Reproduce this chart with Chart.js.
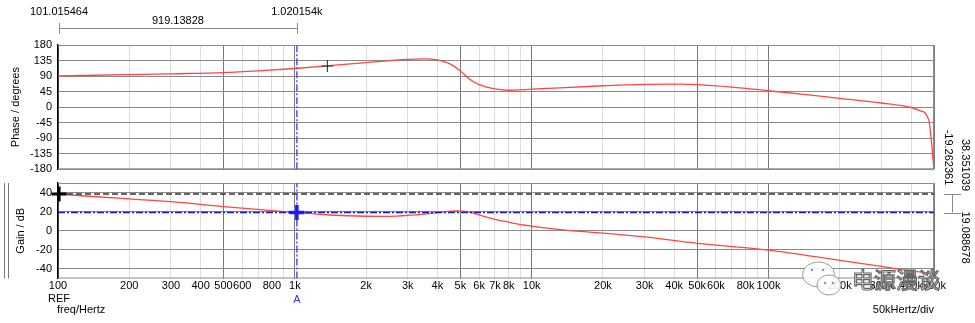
<!DOCTYPE html>
<html>
<head>
<meta charset="utf-8">
<script src="https://cdn.jsdelivr.net/npm/chart.js@4.4.1/dist/chart.umd.min.js"></script>
<style>
html, body { margin: 0; padding: 0; background: #fff; }
#wrap { position: relative; width: 975px; height: 323px; overflow: hidden; }
canvas { position: absolute; left: 0; top: 0; }
</style>
</head>
<body>
<div id="wrap">
  <canvas id="phaseChart" width="975" height="323"></canvas>
  <canvas id="gainChart" width="975" height="323"></canvas>
</div>
<script>
// measured curves
const phaseFreq = [100, 200, 300, 500, 700, 1000, 1400, 2000, 3000, 3500, 4000, 4500, 5000, 5500, 6000, 7000, 8000, 10000, 20000, 30000, 42000, 50000, 70000, 100000, 155000, 200000, 300000, 400000, 436000, 475000, 500000];
const phaseDeg = [90.5, 94, 96.5, 100, 105, 112, 120, 129, 138.5, 140, 137, 126, 105, 80, 65, 53, 49, 52, 62, 66, 66.5, 65, 58, 47.5, 34, 25.5, 12, -1, -10, -37, -180];

const gainFreq = [100, 200, 300, 500, 1000, 1400, 2000, 2500, 3000, 4000, 4800, 5300, 6000, 7000, 8000, 9000, 10000, 13600, 20000, 30000, 50000, 100000, 200000, 300000, 400000, 500000];
const gainDb = [38.35, 33.3, 30.4, 25.2, 19.2, 16.5, 15.2, 15.1, 16, 18.9, 20.8, 20.2, 16.5, 12, 9, 6.5, 4.9, 1, -2.5, -6.5, -13.2, -20.2, -31, -37.4, -42, -45];

// cursors
const cursorRef = 101.015464;
const cursorA = 1020.154;
const refGain = 38.351039;
const aGain = 19.088678;
const hoverMark = { x: 1372, y: 119 };
const cursorText = { ref: '101.015464', a: '1.020154k', delta: '919.13828' };
const gainText = { ref: '38.351039', delta: '-19.262361', a: '19.088678' };

// axes
const phaseTicks = [-180, -135, -90, -45, 0, 45, 90, 135, 180];
const gainTicks = [-40, -20, 0, 20, 40];
const labelFreqs = [100, 200, 300, 400, 500, 600, 800, 1000, 2000, 3000, 4000, 5000, 6000, 7000, 8000, 10000, 20000, 30000, 40000, 50000, 60000, 80000, 100000, 200000, 300000, 400000, 500000];
const labelText = ['100', '200', '300', '400', '500', '600', '800', '1k', '2k', '3k', '4k', '5k', '6k', '7k', '8k', '10k', '20k', '30k', '40k', '50k', '60k', '80k', '100k', '200k', '300k', '400k', '500k'];

const fMin = 100, fMax = 500000;

// minor grid: 1..9 per decade
const gridFreqs = [];
[100, 1000, 10000, 100000].forEach(d => {
    for (let m = 1; m <= 9; m++) {
        if (m * d <= fMax) gridFreqs.push(m * d);
    }
});
const labelMap = {};
labelFreqs.forEach((f, i) => { labelMap[f] = labelText[i]; });

function isMajor(v) {
    if (!v) return false;
    const m = v / Math.pow(10, Math.floor(Math.log10(v) + 1e-9));
    return Math.abs(m - 1) < 1e-6 || Math.abs(m - 5) < 1e-6;
}

const FONT = '"Liberation Sans", Arial, sans-serif';
Chart.defaults.font.family = FONT;
Chart.defaults.font.size = 11;
Chart.defaults.color = '#000';

const toXY = (xs, ys) => xs.map((x, i) => ({ x: x, y: ys[i] }));

function xAxis(showLabels) {
    return {
        type: 'logarithmic',
        min: fMin,
        max: fMax,
        afterBuildTicks: s => { s.ticks = gridFreqs.map(v => ({ value: v })); },
        afterFit: s => { s.height = showLabels ? 20 : 0; },
        grid: {
            color: c => isMajor(c.tick && c.tick.value) ? '#7a7a7a' : '#dcdcdc',
            drawTicks: false
        },
        border: { display: false },
        ticks: {
            display: showLabels,
            autoSkip: false,
            maxRotation: 0,
            padding: 1,
            color: '#000',
            callback: v => labelMap[v] || ''
        }
    };
}

function yAxis(min, max, list, title, titlePad) {
    return {
        min: min,
        max: max,
        afterBuildTicks: s => { s.ticks = list.map(v => ({ value: v })); },
        afterFit: s => { s.width = 58; },
        grid: { color: '#8a8a8a', drawTicks: false },
        border: { color: '#000', width: 1.5 },
        ticks: { padding: 6, color: '#000', autoSkip: false },
        title: { display: true, text: title, color: '#000', padding: { top: titlePad, bottom: 0 } }
    };
}

// grey frame on top/right/bottom of each plot
const framePlugin = {
    id: 'frame',
    beforeDatasetsDraw(chart) {
        const a = chart.chartArea, ctx = chart.ctx;
        ctx.save();
        ctx.strokeStyle = '#8a8a8a';
        ctx.lineWidth = 1;
        ctx.beginPath();
        ctx.moveTo(a.left, a.top + 0.5);
        ctx.lineTo(a.right - 0.5, a.top + 0.5);
        ctx.lineTo(a.right - 0.5, a.bottom - 0.5);
        ctx.lineTo(a.left, a.bottom - 0.5);
        ctx.stroke();
        ctx.restore();
    }
};

const topNotes = {
    id: 'topNotes',
    afterDraw(chart) {
        const ctx = chart.ctx, xs = chart.scales.x;
        const x1 = xs.getPixelForValue(cursorRef), x2 = xs.getPixelForValue(cursorA);
        ctx.save();
        ctx.strokeStyle = '#8a8a8a';
        ctx.lineWidth = 1;
        ctx.beginPath();
        ctx.moveTo(x1, 28.5); ctx.lineTo(x2, 28.5);
        ctx.moveTo(Math.round(x1) + 0.5, 23); ctx.lineTo(Math.round(x1) + 0.5, 34);
        ctx.moveTo(Math.round(x2) + 0.5, 23); ctx.lineTo(Math.round(x2) + 0.5, 34);
        ctx.stroke();
        ctx.fillStyle = '#000';
        ctx.font = '11px ' + FONT;
        ctx.textAlign = 'center';
        ctx.textBaseline = 'middle';
        ctx.fillText(cursorText.ref, x1, 12);
        ctx.fillText(cursorText.a, x2, 12);
        ctx.fillText(cursorText.delta, (x1 + x2) / 2, 20.5);
        ctx.restore();
    }
};

const gainNotes = {
    id: 'gainNotes',
    afterDraw(chart) {
        const ctx = chart.ctx, a = chart.chartArea;
        const xs = chart.scales.x, ys = chart.scales.y;
        const x1 = xs.getPixelForValue(cursorRef), x2 = xs.getPixelForValue(cursorA);
        const yr = ys.getPixelForValue(refGain), ya = ys.getPixelForValue(aGain);
        ctx.save();
        // double bar left of the gain plot
        ctx.strokeStyle = '#777';
        ctx.lineWidth = 1;
        ctx.beginPath();
        ctx.moveTo(4.5, a.top); ctx.lineTo(4.5, a.bottom);
        ctx.moveTo(8.5, a.top); ctx.lineTo(8.5, a.bottom);
        ctx.stroke();

        // delta bracket on the right
        ctx.strokeStyle = '#8a8a8a';
        ctx.beginPath();
        ctx.moveTo(944, Math.round(yr) + 0.5); ctx.lineTo(961, Math.round(yr) + 0.5);
        ctx.moveTo(944, Math.round(ya) + 0.5); ctx.lineTo(961, Math.round(ya) + 0.5);
        ctx.moveTo(952.5, yr); ctx.lineTo(952.5, ya);
        ctx.stroke();

        ctx.font = '11px ' + FONT;
        ctx.fillStyle = '#000';
        ctx.textBaseline = 'middle';
        const vtext = (t, x, y) => {
            ctx.save();
            ctx.translate(x, y);
            ctx.rotate(Math.PI / 2);
            ctx.textAlign = 'center';
            ctx.fillText(t, 0, 0);
            ctx.restore();
        };
        vtext(gainText.ref, 965, 165);
        vtext(gainText.delta, 948.5, 157.5);
        vtext(gainText.a, 965, 237.5);

        ctx.textAlign = 'center';
        ctx.fillText('REF', x1, 298.5);
        ctx.fillStyle = '#3333ff';
        ctx.fillText('A', x2, 300);
        ctx.fillStyle = '#000';
        ctx.textAlign = 'left';
        ctx.fillText('freq/Hertz', 57, 310);
        ctx.textAlign = 'right';
        ctx.fillText('50kHertz/div', 934, 310);

        // watermark
        ctx.lineWidth = 1;
        ctx.strokeStyle = '#9a9a9a';
        ctx.fillStyle = 'rgba(255,255,255,0.85)';
        ctx.beginPath();
        ctx.ellipse(818.5, 274.5, 16, 12.5, 0, 0, Math.PI * 2);
        ctx.fill(); ctx.stroke();
        ctx.beginPath();
        ctx.ellipse(829, 285, 12, 10, 0, 0, Math.PI * 2);
        ctx.fill(); ctx.stroke();
        ctx.fillStyle = '#9a9a9a';
        [[812, 270], [823, 270], [825, 283], [833, 283]].forEach(p => {
            ctx.beginPath(); ctx.arc(p[0], p[1], 1.3, 0, Math.PI * 2); ctx.fill();
        });
        ctx.font = '22px "Noto Sans CJK SC", sans-serif';
        ctx.textAlign = 'left';
        ctx.textBaseline = 'middle';
        ctx.lineWidth = 1.2;
        ctx.strokeStyle = '#666';
        ctx.fillStyle = '#fff';
        ctx.fillText('电源漫谈', 852, 280);
        ctx.strokeText('电源漫谈', 852, 280);
        ctx.restore();
    }
};

const common = {
    responsive: false,
    animation: false,
    devicePixelRatio: 1,
    plugins: { legend: { display: false }, tooltip: { enabled: false } },
    elements: { point: { radius: 0 } }
};

new Chart(document.getElementById('phaseChart'), {
    type: 'line',
    data: {
        datasets: [
            {
                data: [hoverMark],
                showLine: false,
                pointStyle: 'cross',
                pointRadius: 6,
                pointBorderWidth: 1,
                pointBorderColor: '#222'
            },
            {
                data: [{ x: cursorA, y: -180 }, { x: cursorA, y: 180 }],
                borderColor: '#4d4dff',
                borderWidth: 1.5,
                borderDash: [7, 2, 2, 2],
                pointRadius: 0
            },
            {
                data: toXY(phaseFreq, phaseDeg),
                borderColor: '#ff4545',
                borderWidth: 1.3,
                cubicInterpolationMode: 'monotone',
                pointRadius: 0
            }
        ]
    },
    options: Object.assign({}, common, {
        layout: { padding: { left: 0, right: 41, top: 45, bottom: 153.7 } },
        scales: {
            x: xAxis(false),
            y: yAxis(-180, 180, phaseTicks, 'Phase / degrees', 9)
        }
    }),
    plugins: [framePlugin, topNotes]
});

new Chart(document.getElementById('gainChart'), {
    type: 'line',
    data: {
        datasets: [
            {
                data: [{ x: cursorRef, y: refGain }],
                showLine: false,
                pointStyle: 'cross',
                pointRadius: 7.5,
                pointBorderWidth: 3,
                pointBorderColor: '#000',
                clip: false
            },
            {
                data: [{ x: cursorA, y: aGain }],
                showLine: false,
                pointStyle: 'cross',
                pointRadius: 7.5,
                pointBorderWidth: 3.5,
                pointBorderColor: '#1a1aff',
                clip: false
            },
            {
                data: [{ x: cursorA, y: -50 }, { x: cursorA, y: 50 }],
                borderColor: '#4d4dff',
                borderWidth: 1.5,
                borderDash: [7, 2, 2, 2],
                pointRadius: 0
            },
            {
                data: [{ x: fMin, y: aGain }, { x: fMax, y: aGain }],
                borderColor: '#1a1acc',
                borderWidth: 1.5,
                borderDash: [7, 2, 2, 2],
                pointRadius: 0
            },
            {
                data: [{ x: fMin, y: refGain }, { x: fMax, y: refGain }],
                borderColor: '#333',
                borderWidth: 1.5,
                borderDash: [6, 3],
                pointRadius: 0
            },
            {
                data: toXY(gainFreq, gainDb),
                borderColor: '#ff4545',
                borderWidth: 1.3,
                cubicInterpolationMode: 'monotone',
                pointRadius: 0
            }
        ]
    },
    options: Object.assign({}, common, {
        layout: { padding: { left: 0, right: 41, top: 183, bottom: 24.5 } },
        scales: {
            x: xAxis(true),
            y: yAxis(-50, 50, gainTicks, 'Gain / dB', 14)
        }
    }),
    plugins: [framePlugin, gainNotes]
});
</script>
</body>
</html>
